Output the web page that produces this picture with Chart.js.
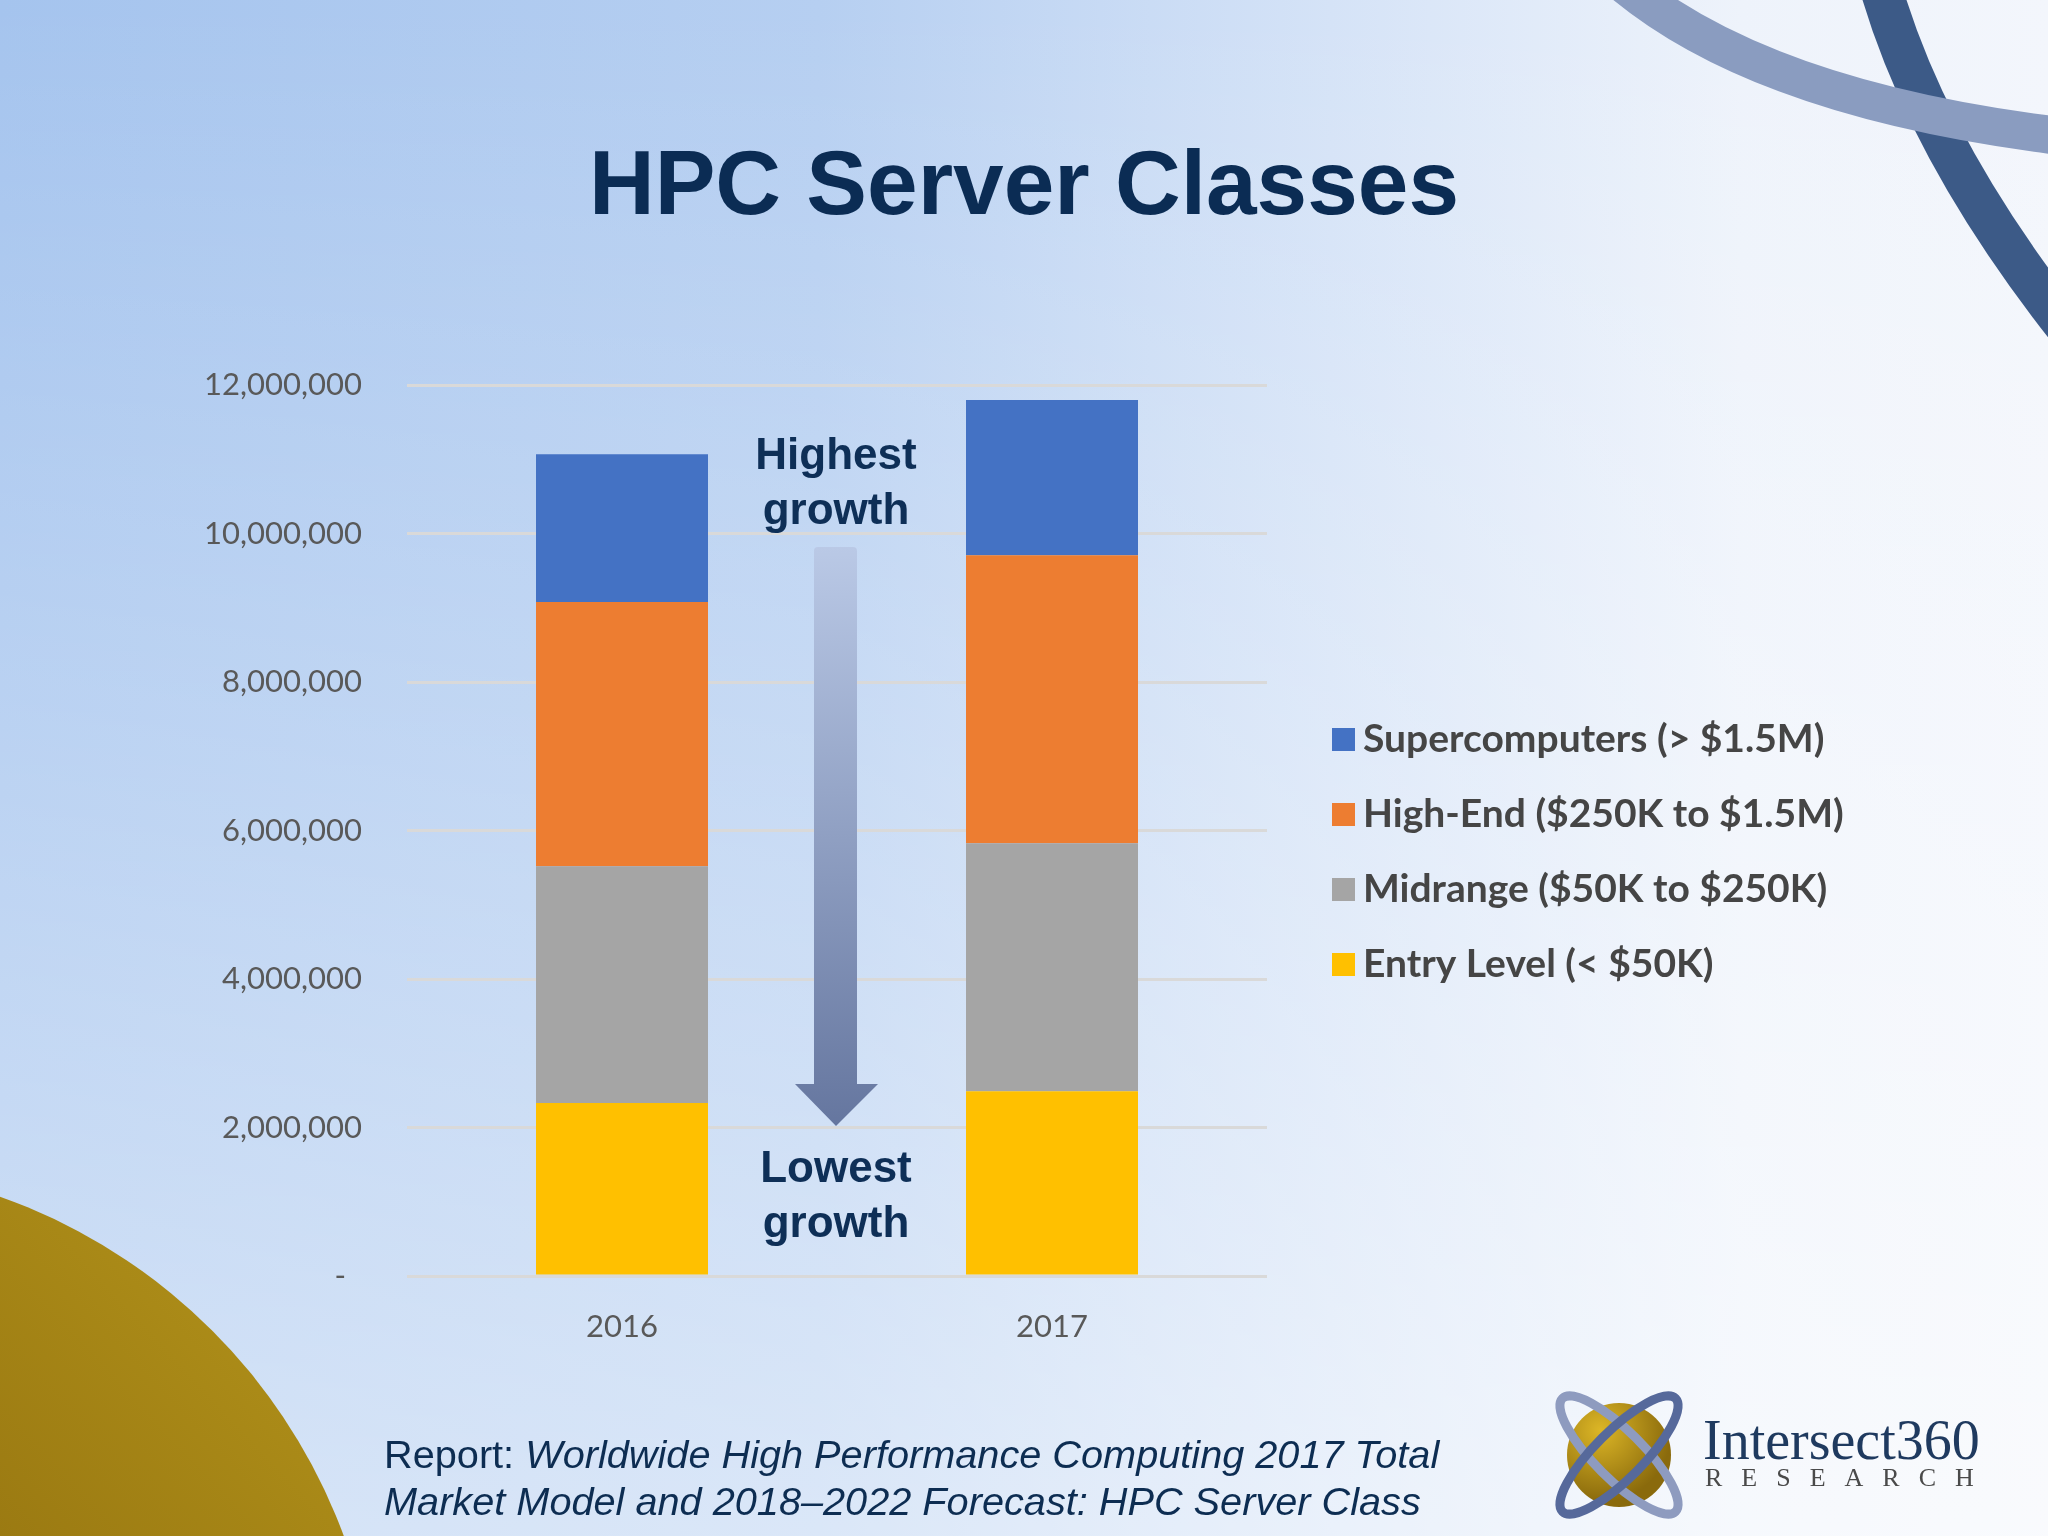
<!DOCTYPE html>
<html>
<head>
<meta charset="utf-8">
<script src="https://cdn.jsdelivr.net/npm/chart.js@4"></script>
<style>
html,body{margin:0;padding:0;}
body{width:2048px;height:1536px;overflow:hidden;position:relative;
  background:
    linear-gradient(to bottom, rgba(255,255,255,0) 0%, rgba(255,255,255,0.5) 100%),
    linear-gradient(to right, #a5c4ee 0%, #b6cff1 40%, #d5e3f7 65%, #eef3fb 85%, #f3f6fc 100%);}
#bg,#fg{position:absolute;left:0;top:0;}
#bg{z-index:0;}
#chart{position:absolute;left:0;top:0;z-index:1;}
#fg{z-index:2;pointer-events:none;}
.t{position:absolute;z-index:3;white-space:nowrap;}
.note{left:736px;width:200px;text-align:center;font:bold 44px "Liberation Sans",Arial,sans-serif;line-height:55px;color:#0e2f57;}
.foot{left:384px;top:1431px;font:39.7px "Liberation Sans",Arial,sans-serif;line-height:47px;color:#0d2d52;}
.foot i{font-style:italic;}
.logo1{left:1703px;top:1412px;font:56px "Liberation Serif","Times New Roman",serif;line-height:56px;color:#1f3a5f;}
.logo2{left:1705px;top:1465px;font:26px "Liberation Serif","Times New Roman",serif;line-height:26px;letter-spacing:19px;color:#4a4a4a;}
</style>
</head>
<body>
<svg id="bg" width="2048" height="1536" xmlns="http://www.w3.org/2000/svg">
  <defs>
    <linearGradient id="gold" x1="0" y1="1536" x2="380" y2="1180" gradientUnits="userSpaceOnUse">
      <stop offset="0" stop-color="#9b7a12"/>
      <stop offset="1" stop-color="#b6971c"/>
    </linearGradient>
  </defs>
  <circle cx="-190" cy="1733" r="569" fill="url(#gold)"/>
  <path d="M1880,-15 Q1930,160 2085,350" stroke="#3c5a87" stroke-width="42" fill="none"/>
  <path d="M1625,-15 Q1765,100 2060,136" stroke="#8a9cc0" stroke-width="38" fill="none"/>
</svg>

<canvas id="chart" width="2048" height="1536"></canvas>

<svg id="fg" width="2048" height="1536" xmlns="http://www.w3.org/2000/svg">
  <defs>
    <linearGradient id="arr" x1="0" y1="547" x2="0" y2="1126" gradientUnits="userSpaceOnUse">
      <stop offset="0" stop-color="#bac9e6"/>
      <stop offset="1" stop-color="#65769f"/>
    </linearGradient>
    <radialGradient id="sphere" cx="1600" cy="1430" r="72" gradientUnits="userSpaceOnUse">
      <stop offset="0" stop-color="#dcb626"/>
      <stop offset="1" stop-color="#8a6a0c"/>
    </radialGradient>
  </defs>
  <path d="M814,551 Q814,547 818,547 H853 Q857,547 857,551 V1084 H878 L836,1126 L795,1084 H814 Z" fill="url(#arr)"/>
  <circle cx="1619" cy="1455" r="52" fill="url(#sphere)"/>
  <ellipse cx="1619" cy="1455" rx="80" ry="24" transform="rotate(45 1619 1455)" fill="none" stroke="#8e9bbf" stroke-width="9"/>
  <ellipse cx="1619" cy="1455" rx="80" ry="24" transform="rotate(-45 1619 1455)" fill="none" stroke="#56699b" stroke-width="9"/>
</svg>

<div class="t note" style="top:426px;">Highest<br>growth</div>
<div class="t note" style="top:1139px;">Lowest<br>growth</div>
<div class="t foot">Report: <i>Worldwide High Performance Computing 2017 Total</i><br><i>Market Model and 2018–2022 Forecast: HPC Server Class</i></div>
<div class="t logo1">Intersect360</div>
<div class="t logo2">RESEARCH</div>

<script>
// ---- data ----
const categories = ['2016', '2017'];
const entryLevel     = [2330000, 2490000];
const midrange       = [3190000, 3340000];
const highEnd        = [3560000, 3880000];
const supercomputers = [1990000, 2090000];
const seriesNames = [
  'Entry Level (< $50K)',
  'Midrange ($50K to $250K)',
  'High-End ($250K to $1.5M)',
  'Supercomputers (> $1.5M)'
];
const seriesColors = ['#ffc000', '#a5a5a5', '#ed7d31', '#4472c4'];
const yTickValues = [0, 2000000, 4000000, 6000000, 8000000, 10000000, 12000000];
const chartTitle = 'HPC Server Classes';

function swatch(color) {
  const c = document.createElement('canvas');
  c.width = 23; c.height = 23;
  const g = c.getContext('2d');
  g.fillStyle = color; g.fillRect(0, 0, 23, 23);
  return c;
}
const swatches = seriesColors.map(swatch);

const seriesValues = [entryLevel, midrange, highEnd, supercomputers];
const datasets = seriesValues.map((vals, i) => ({
  label: seriesNames[i],
  data: vals,
  backgroundColor: seriesColors[i],
  borderWidth: 0,
  categoryPercentage: 0.8,
  barPercentage: 0.5,
  xAxisID: 'x',
  yAxisID: 'y'
}));

const tickFont = { family: 'Lato', size: 31 };
const PLOT_RIGHT = 1267, LEGEND_GAP = 39.5, CANVAS_W = 2048;

new Chart(document.getElementById('chart'), {
  type: 'bar',
  data: { labels: categories, datasets },
  options: {
    responsive: false,
    animation: false,
    devicePixelRatio: 1,
    layout: { padding: { left: 0, top: 0, right: 0, bottom: 160 } },
    plugins: {
      tooltip: { enabled: false },
      title: {
        display: true,
        text: chartTitle,
        color: '#0b2c54',
        font: { family: 'Liberation Sans', weight: 'bold', size: 91, lineHeight: 1.2 },
        padding: { top: 134.5, bottom: 141.5 }
      },
      legend: {
        position: 'right',
        fullSize: false,
        maxWidth: 1000,
        reverse: true,
        title: { display: true, text: ' ', font: { size: 10, lineHeight: 1.2 }, padding: 15 },
        labels: {
          usePointStyle: true,
          pointStyleWidth: 1,
          padding: 36,
          color: '#454545',
          font: { family: 'Lato', weight: 'bold', size: 39 },
          generateLabels(chart) {
            const items = Chart.defaults.plugins.legend.labels.generateLabels(chart);
            items.forEach(it => { it.pointStyle = swatches[it.datasetIndex]; });
            return items;
          }
        }
      }
    },
    scales: {
      x: {
        stacked: true,
        grid: { display: false, drawTicks: false },
        border: { display: false },
        ticks: { color: '#595959', font: tickFont, padding: 32 },
        afterFit(s) { s.height = 100; }
      },
      y: {
        stacked: true,
        min: 0,
        max: 12000000,
        grid: { color: '#d9d9d9', lineWidth: 3, drawTicks: false },
        border: { display: false },
        afterBuildTicks(s) { s.ticks = yTickValues.map(v => ({ value: v })); },
        ticks: {
          color: '#595959',
          font: tickFont,
          padding: 45,
          callback: v => v === 0 ? '-  ' : Number(v).toLocaleString('en-US')
        },
        afterFit(s) { s.width = 407; }
      },
      gap: {
        type: 'linear',
        position: 'right',
        display: true,
        weight: 0,
        grid: { display: false, drawTicks: false },
        border: { display: false },
        ticks: { display: false },
        afterFit(s) { s.width = LEGEND_GAP; }
      },
      gapOuter: {
        type: 'linear',
        position: 'right',
        display: true,
        weight: 2000,
        grid: { display: false, drawTicks: false },
        border: { display: false },
        ticks: { display: false },
        afterFit(s) {
          const lw = s.chart.legend ? s.chart.legend.width : 0;
          s.width = Math.max(0, CANVAS_W - PLOT_RIGHT - LEGEND_GAP - lw);
        }
      }
    }
  }
});
</script>
</body>
</html>
